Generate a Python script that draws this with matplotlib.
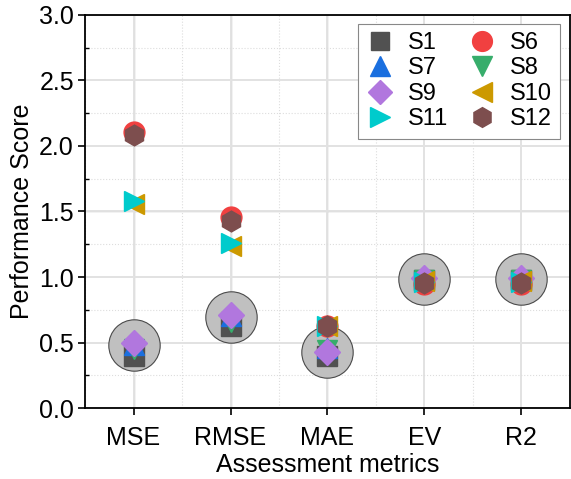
import numpy as np
import matplotlib.pyplot as plt
from matplotlib.ticker import MultipleLocator

plt.rcParams["font.family"] = ["Liberation Sans", "DejaVu Sans"]

metrics = ["MSE", "RMSE", "MAE", "EV", "R2"]
circle_vals = [0.48, 0.695, 0.43, 0.985, 0.985]

series = ["S1", "S6", "S7", "S8", "S9", "S10", "S11", "S12"]
s1 = [0.40, 0.63, 0.40, 0.98, 0.98]
s6 = [2.11, 1.46, 0.63, 0.95, 0.95]
s7 = [0.48, 0.70, 0.46, 0.99, 0.99]
s8 = [0.45, 0.66, 0.44, 0.98, 0.98]
s9 = [0.50, 0.71, 0.43, 0.99, 0.99]
s10 = [1.56, 1.24, 0.63, 0.97, 0.97]
s11 = [1.58, 1.26, 0.63, 0.96, 0.96]
s12 = [2.08, 1.43, 0.63, 0.955, 0.955]
values = [s1, s6, s7, s8, s9, s10, s11, s12]

colors = ["#515151", "#F14040", "#1A6FDF", "#37AD6B", "#B177DE", "#CC9900", "#00CBCC", "#7D4E4E"]
markers = ["s", "o", "^", "v", "D", "<", ">", "h"]
sizes = [14, 15, 15, 15, 13, 15, 15, 15]

x = np.arange(1, len(metrics) + 1)

fig = plt.figure(figsize=(5.71, 4.79), dpi=100)
ax = fig.add_axes([0.149, 0.148, 0.849, 0.821])

# grid
ax.set_axisbelow(True)
ax.grid(which="major", color="#e2e2e2", lw=1.4, ls="-", zorder=0)
ax.grid(which="minor", color="#dddddd", lw=0.8, ls=":", zorder=0)
for xv in x[:3]:
    ax.axvline(xv, color="#9a9a9a", lw=0.9, zorder=0.5)
ax.axhline(1.5, color="#9a9a9a", lw=0.9, zorder=0.5)

ax.scatter(x, circle_vals, s=37 ** 2, facecolor="#c0c0c0", edgecolor="#4a4a4a",
           lw=0.8, zorder=2)

handles = []
for name, vals, c, m, ms in zip(series, values, colors, markers, sizes):
    h, = ax.plot(x, vals, ls="none", marker=m, ms=ms, color=c, mec=c, label=name, zorder=3)
    handles.append(h)

ax.set_xlim(0.5, 5.5)
ax.set_ylim(0, 3.0)
ax.set_xticks(x)
ax.set_xticklabels(metrics)
ax.xaxis.set_minor_locator(MultipleLocator(0.5))
ax.yaxis.set_major_locator(MultipleLocator(0.5))
ax.yaxis.set_minor_locator(MultipleLocator(0.25))
ax.tick_params(axis="both", which="major", direction="out", length=5, width=1.2,
               labelsize=18, pad=3)
ax.tick_params(axis="x", which="major", pad=8)
ax.tick_params(axis="x", which="minor", length=0)
ax.tick_params(axis="y", which="minor", direction="in", length=3, width=1)
for sp in ax.spines.values():
    sp.set_linewidth(1.3)

ax.set_xlabel("Assessment metrics", fontsize=18, labelpad=2)
ax.set_ylabel("Performance Score", fontsize=18, labelpad=4)

order = [0, 2, 4, 6, 1, 3, 5, 7]
leg = ax.legend([handles[i] for i in order], [series[i] for i in order], ncol=2,
                loc="upper right", bbox_to_anchor=(0.99, 0.99), fontsize=17,
                frameon=True, fancybox=False, framealpha=1, edgecolor="#888888",
                handlelength=1.2, handletextpad=0.6, columnspacing=0.8,
                labelspacing=0.15, borderpad=0.35, markerscale=0.95,
                borderaxespad=0.2)
leg.get_frame().set_linewidth(0.8)

fig.savefig("out.png", dpi=100)
